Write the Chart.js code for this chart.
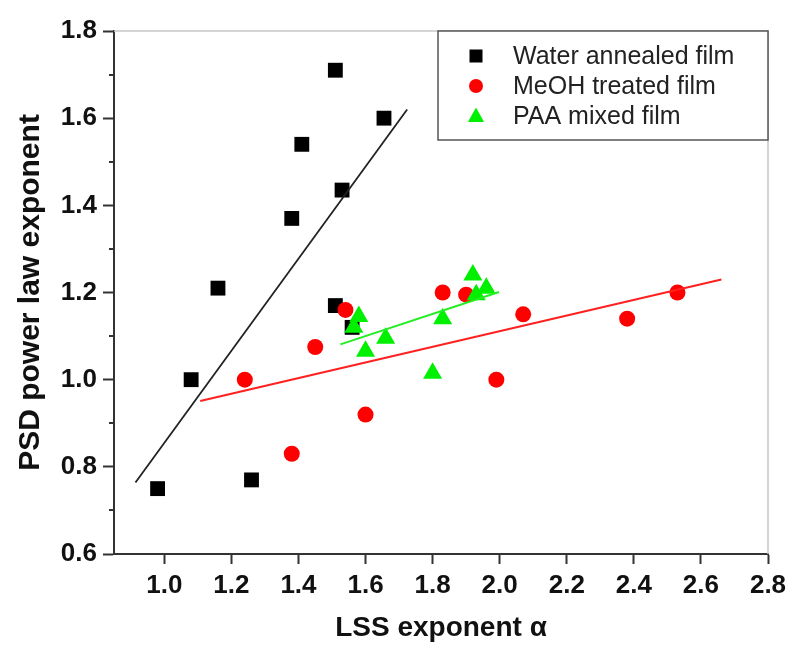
<!DOCTYPE html>
<html>
<head>
<meta charset="utf-8">
<script src="https://cdn.jsdelivr.net/npm/chart.js@4"></script>
<style>
  html, body { margin: 0; padding: 0; background: #fff; }
  #wrap { width: 800px; height: 664px; }
</style>
</head>
<body>
<div id="wrap"><canvas id="chart"></canvas></div>
<script>
// values
var waterX = [0.98, 1.08, 1.16, 1.26, 1.38, 1.41, 1.51, 1.53, 1.51, 1.56, 1.655];
var waterY = [0.75, 1.00, 1.21, 0.77, 1.37, 1.54, 1.71, 1.435, 1.17, 1.12, 1.60];
var meohX = [1.24, 1.38, 1.45, 1.54, 1.60, 1.83, 1.90, 1.99, 2.07, 2.38, 2.53];
var meohY = [1.00, 0.83, 1.075, 1.16, 0.92, 1.20, 1.195, 1.00, 1.15, 1.14, 1.20];
var paaX = [1.58, 1.565, 1.60, 1.66, 1.80, 1.83, 1.92, 1.93, 1.96];
var paaY = [1.145, 1.12, 1.065, 1.095, 1.015, 1.14, 1.24, 1.195, 1.21];

// fitted lines, end points
var waterFitX = [0.914, 1.724];
var waterFitY = [0.764, 1.620];
var meohFitX = [1.107, 2.661];
var meohFitY = [0.951, 1.230];
var paaFitX = [1.525, 1.998];
var paaFitY = [1.081, 1.201];

var xTicks = [1.0, 1.2, 1.4, 1.6, 1.8, 2.0, 2.2, 2.4, 2.6, 2.8];
var yTicks = [0.6, 0.8, 1.0, 1.2, 1.4, 1.6, 1.8];
var yMinorTicks = [0.7, 0.9, 1.1, 1.3, 1.5, 1.7];

var FONT = "'Liberation Sans', Arial, Helvetica, sans-serif";

var toPoints = function(xs, ys){
  var pts = [];
  for (var i = 0; i < xs.length; i++){
    pts.push({x: xs[i], y: ys[i]});
  }
  return pts;
};

var drawMarker = function(ctx, style, x, y, r, color){
  ctx.save();
  ctx.fillStyle = color;
  ctx.beginPath();
  if (style === 'rect'){
    ctx.rect(x - r, y - r, 2 * r, 2 * r);
  }
  else if (style === 'circle'){
    ctx.arc(x, y, r, 0, Math.PI * 2);
  }
  else {
    ctx.moveTo(x, y - r);
    ctx.lineTo(x + r * 0.95, y + r * 0.7);
    ctx.lineTo(x - r * 0.95, y + r * 0.7);
    ctx.closePath();
  }
  ctx.fill();
  ctx.restore();
};

// frame (grey top/right), minor y ticks and the boxed legend
var extrasPlugin = {
  id: 'extras',
  afterDraw: function(chart){
    var ctx = chart.ctx;
    var a = chart.chartArea;
    var ys = chart.scales.y;

    ctx.save();
    ctx.strokeStyle = '#c8c8c8';
    ctx.lineWidth = 1.5;
    ctx.beginPath();
    ctx.moveTo(a.left, a.top);
    ctx.lineTo(a.right, a.top);
    ctx.lineTo(a.right, a.bottom);
    ctx.stroke();

    ctx.strokeStyle = '#333';
    ctx.lineWidth = 2;
    for (var i = 0; i < yMinorTicks.length; i++){
      var py = Math.round(ys.getPixelForValue(yMinorTicks[i]));
      ctx.beginPath();
      ctx.moveTo(a.left - 5, py);
      ctx.lineTo(a.left, py);
      ctx.stroke();
    }

    // legend
    var bx = 438, by = a.top, bw = a.right - 438, bh = 140 - a.top;
    ctx.fillStyle = '#fff';
    ctx.fillRect(bx, by, bw, bh);
    ctx.strokeStyle = '#555';
    ctx.lineWidth = 1.5;
    ctx.strokeRect(bx, by, bw, bh);

    var items = chart.data.datasets.filter(function(d){ return d.inLegend; });
    ctx.font = '25px ' + FONT;
    ctx.textBaseline = 'middle';
    ctx.fillStyle = '#222';
    for (var k = 0; k < items.length; k++){
      var ly = 56 + k * 30;
      var sz = items[k].pointStyle === 'rect' ? 6.5 : (items[k].pointStyle === 'circle' ? 7 : 8.5);
      drawMarker(ctx, items[k].pointStyle, 476, ly, sz, items[k].backgroundColor);
      ctx.fillStyle = '#222';
      ctx.fillText(items[k].label, 513, ly + 1);
    }
    ctx.restore();
  }
};

var tickFont = {family: FONT, size: 26, weight: 'bold'};
var titleFont = {family: FONT, size: 28, weight: 'bold'};
var yTitleFont = {family: FONT, size: 30, weight: 'bold'};

var chart = new Chart(document.getElementById('chart'), {
  type: 'scatter',
  data: {
    datasets: [
      {label: 'Water annealed film', inLegend: true, data: toPoints(waterX, waterY),
       pointStyle: 'rect', pointRadius: 10.5, backgroundColor: '#000', borderColor: '#000', borderWidth: 0, order: 4},
      {label: 'MeOH treated film', inLegend: true, data: toPoints(meohX, meohY),
       pointStyle: 'circle', pointRadius: 8, backgroundColor: '#ff0000', borderColor: '#ff0000', borderWidth: 0, order: 3},
      {label: 'PAA mixed film', inLegend: true, data: toPoints(paaX, paaY),
       pointStyle: 'triangle', pointRadius: 11, backgroundColor: '#00f000', borderColor: '#00f000', borderWidth: 0, order: 2},
      {label: 'fit water', type: 'line', data: toPoints(waterFitX, waterFitY), showLine: true,
       borderColor: '#222', borderWidth: 1.8, pointRadius: 0, fill: false, order: 1},
      {label: 'fit meoh', type: 'line', data: toPoints(meohFitX, meohFitY), showLine: true,
       borderColor: '#ff2020', borderWidth: 2, pointRadius: 0, fill: false, order: 1},
      {label: 'fit paa', type: 'line', data: toPoints(paaFitX, paaFitY), showLine: true,
       borderColor: '#22ee22', borderWidth: 2, pointRadius: 0, fill: false, order: 1}
    ]
  },
  options: {
    responsive: true,
    maintainAspectRatio: false,
    animation: false,
    events: [],
    layout: {padding: {top: 31, right: 32, left: 0, bottom: 0}},
    plugins: {legend: {display: false}, tooltip: {enabled: false}},
    scales: {
      x: {
        type: 'linear', min: 0.85, max: 2.8,
        afterBuildTicks: function(scale){ scale.ticks = xTicks.map(function(v){ return {value: v}; }); },
        afterFit: function(scale){ scale.height = 110; },
        grid: {drawOnChartArea: false, drawTicks: true, tickLength: 10, tickColor: '#333', tickWidth: 2},
        border: {display: true, color: '#333', width: 2},
        ticks: {font: tickFont, color: '#111', padding: 6, maxRotation: 0,
                callback: function(v){ return v.toFixed(1); }},
        title: {display: true, text: 'LSS exponent α', font: titleFont, color: '#111', padding: {top: 0, bottom: 19}}
      },
      y: {
        type: 'linear', min: 0.6, max: 1.8,
        afterBuildTicks: function(scale){ scale.ticks = yTicks.map(function(v){ return {value: v}; }); },
        afterFit: function(scale){ scale.width = 114; },
        grid: {drawOnChartArea: false, drawTicks: true, tickLength: 11, tickColor: '#333', tickWidth: 2},
        border: {display: true, color: '#333', width: 2},
        ticks: {font: tickFont, color: '#111', padding: 6,
                callback: function(v){ return v.toFixed(1); }},
        title: {display: true, text: 'PSD power law exponent', font: yTitleFont, color: '#111', padding: {top: 13, bottom: 0}}
      }
    }
  },
  plugins: [extrasPlugin]
});
</script>
</body>
</html>
